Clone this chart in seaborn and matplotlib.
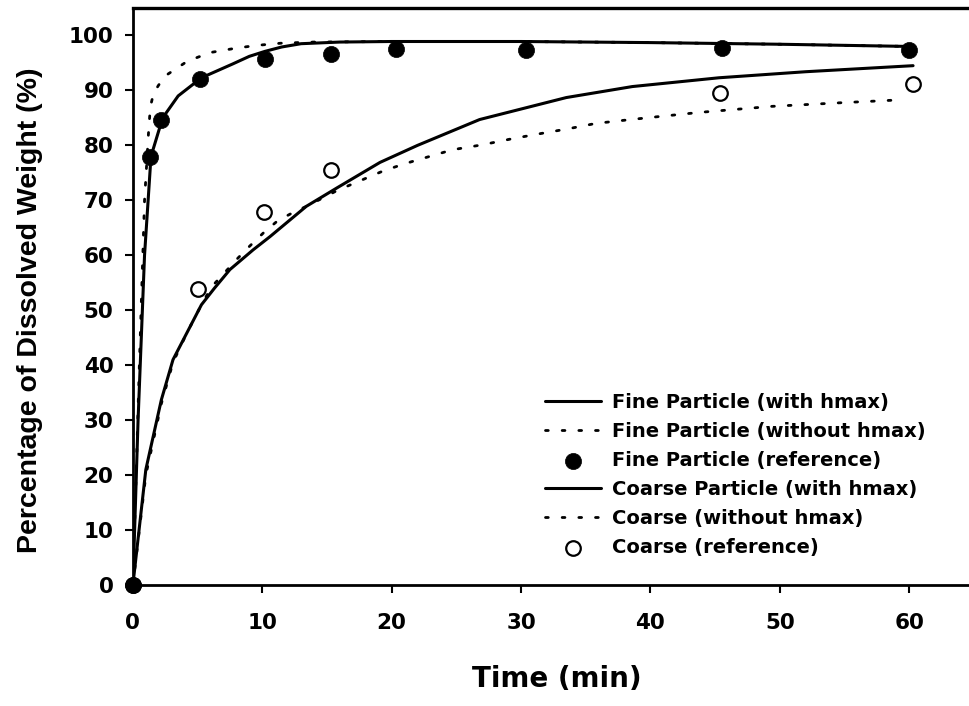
import matplotlib
matplotlib.use("Agg")
import matplotlib.pyplot as plt
import seaborn as sns

# ---- data ----
fine_with_x = [0, 0.4, 0.9, 1.4, 2.3, 3.5, 5.3, 7.7, 9.0, 10.2, 11.5, 13, 16, 20, 30, 40, 50, 60]
fine_with_y = [0, 30, 60, 78, 85, 89, 92.3, 94.8, 96.2, 97.1, 97.9, 98.5, 98.8, 98.9, 98.9, 98.7, 98.4, 98.0]

fine_without_x = [0, 0.5, 0.9, 1.1, 1.2, 1.35, 1.6, 2.0, 2.6, 3.5, 4.2, 5.2, 6.0, 7.0, 8.0, 9.6, 11.5, 14, 20, 30, 40, 50, 60]
fine_without_y = [0, 40, 70, 78, 82, 87, 89.5, 91, 92.8, 94.2, 95.3, 96.2, 96.9, 97.3, 97.7, 98.2, 98.6, 98.8, 98.9, 98.9, 98.7, 98.4, 98.0]

fine_ref_x = [0, 1.3, 2.2, 5.2, 10.2, 15.3, 20.3, 30.4, 45.5, 60]
fine_ref_y = [0, 77.8, 84.7, 92.0, 95.8, 96.7, 97.6, 97.4, 97.8, 97.3]

coarse_with_x = [0, 1.0, 2.2, 3.1, 4.2, 5.3, 6.3, 7.5, 9.3, 10.6, 13.4, 15.8, 19.1, 22, 26.8, 33.5, 38.6, 45.3, 52, 60.3]
coarse_with_y = [0, 21, 33.7, 41, 46, 51, 54, 57.4, 61, 63.4, 68.9, 72.3, 76.9, 80, 84.7, 88.7, 90.7, 92.3, 93.4, 94.5]

coarse_without_x = [0, 1.0, 2.2, 3.1, 4.2, 5.3, 6.1, 7, 8, 9, 10.1, 11.2, 12.4, 13.5, 15.8, 17, 18.1, 19.2, 20.3, 21.5,
                    24.7, 27, 29.3, 31.4, 33.6, 35.8, 38.1, 40.5, 43.8, 49.4, 55.1, 59.5]
coarse_without_y = [0, 20, 33, 40.5, 46, 51, 54.3, 56.6, 59.2, 61.6, 64.1, 66.3, 67.8, 69, 71.8, 73, 74.1, 75.2, 76.1, 77,
                    79.2, 80.1, 81.2, 82.1, 83, 84, 84.6, 85.2, 86, 87.1, 87.8, 88.3]

coarse_ref_x = [0, 5.0, 10.1, 15.3, 45.4, 60.3]
coarse_ref_y = [0, 53.9, 67.9, 75.6, 89.6, 91.1]

labels = ["Fine Particle (with hmax)", "Fine Particle (without hmax)", "Fine Particle (reference)",
          "Coarse Particle (with hmax)", "Coarse (without hmax)", "Coarse (reference)"]

x_ticks = [0, 10, 20, 30, 40, 50, 60]
y_ticks = [0, 10, 20, 30, 40, 50, 60, 70, 80, 90, 100]

# ---- style ----
sns.set_style("ticks")
plt.rcParams["font.family"] = ["DejaVu Sans"]
plt.rcParams["font.weight"] = "bold"
plt.rcParams["text.color"] = "black"
plt.rcParams["axes.labelcolor"] = "black"
plt.rcParams["xtick.color"] = "black"
plt.rcParams["ytick.color"] = "black"

fig = plt.figure(figsize=(9.7, 7.06), dpi=100)
ax = fig.add_axes([0.137, 0.1714, 0.863, 0.8173])

dot = (0, (1, 5))
sns.lineplot(x=fine_with_x, y=fine_with_y, ax=ax, color="black", lw=2.2,
             estimator=None, sort=False, label=labels[0])
sns.lineplot(x=fine_without_x, y=fine_without_y, ax=ax, color="black", lw=2.0,
             linestyle=dot, dash_capstyle="round", estimator=None, sort=False, label=labels[1])
sns.lineplot(x=coarse_with_x, y=coarse_with_y, ax=ax, color="black", lw=2.2,
             estimator=None, sort=False, label=labels[3])
sns.lineplot(x=coarse_without_x, y=coarse_without_y, ax=ax, color="black", lw=2.0,
             linestyle=dot, dash_capstyle="round", estimator=None, sort=False, label=labels[4])
sns.scatterplot(x=coarse_ref_x, y=coarse_ref_y, ax=ax, s=110, facecolor="white", edgecolor="black",
                linewidth=1.6, marker="o", clip_on=False, zorder=5, label=labels[5])
sns.scatterplot(x=fine_ref_x, y=fine_ref_y, ax=ax, s=135, color="black", edgecolor="black",
                linewidth=0.5, marker="o", clip_on=False, zorder=6, label=labels[2])

ax.set_xlim(0, 64.7)
ax.set_ylim(0, 105)
ax.set_xticks(x_ticks)
ax.set_yticks(y_ticks)
ax.tick_params(axis="x", direction="out", length=6, width=1.5, pad=14, labelsize=15.5, colors="black")
ax.tick_params(axis="y", direction="out", length=6, width=1.5, pad=8, labelsize=15.5, colors="black")
for lab in ax.get_xticklabels() + ax.get_yticklabels():
    lab.set_fontweight("bold")

for side in ["top", "bottom", "left"]:
    ax.spines[side].set_linewidth(2.0)
    ax.spines[side].set_color("black")
ax.spines["top"].set_linewidth(2.4)
ax.spines["right"].set_visible(False)

ax.set_xlabel("Time (min)", fontsize=20, fontweight="bold", color="black")
ax.xaxis.set_label_coords(0.5066, -0.1387)
ax.set_ylabel("Percentage of Dissolved Weight (%)", fontsize=20.5, fontweight="bold", color="black",
              family=["Liberation Sans", "DejaVu Sans"])
ax.yaxis.set_label_coords(-0.107, 0.476)

handles, labs = ax.get_legend_handles_labels()
hmap = dict(zip(labs, handles))
ordered = [hmap[l] for l in labels]
ax.legend(ordered, labels, loc="upper left", bbox_to_anchor=(0.562, 0.443),
          bbox_transform=fig.transFigure, frameon=False,
          handlelength=2.85, handletextpad=0.6, labelspacing=0.51, borderpad=0,
          borderaxespad=0, prop={"weight": "bold", "size": 14, "family": "DejaVu Sans"})

fig.savefig("out.png", dpi=100)
